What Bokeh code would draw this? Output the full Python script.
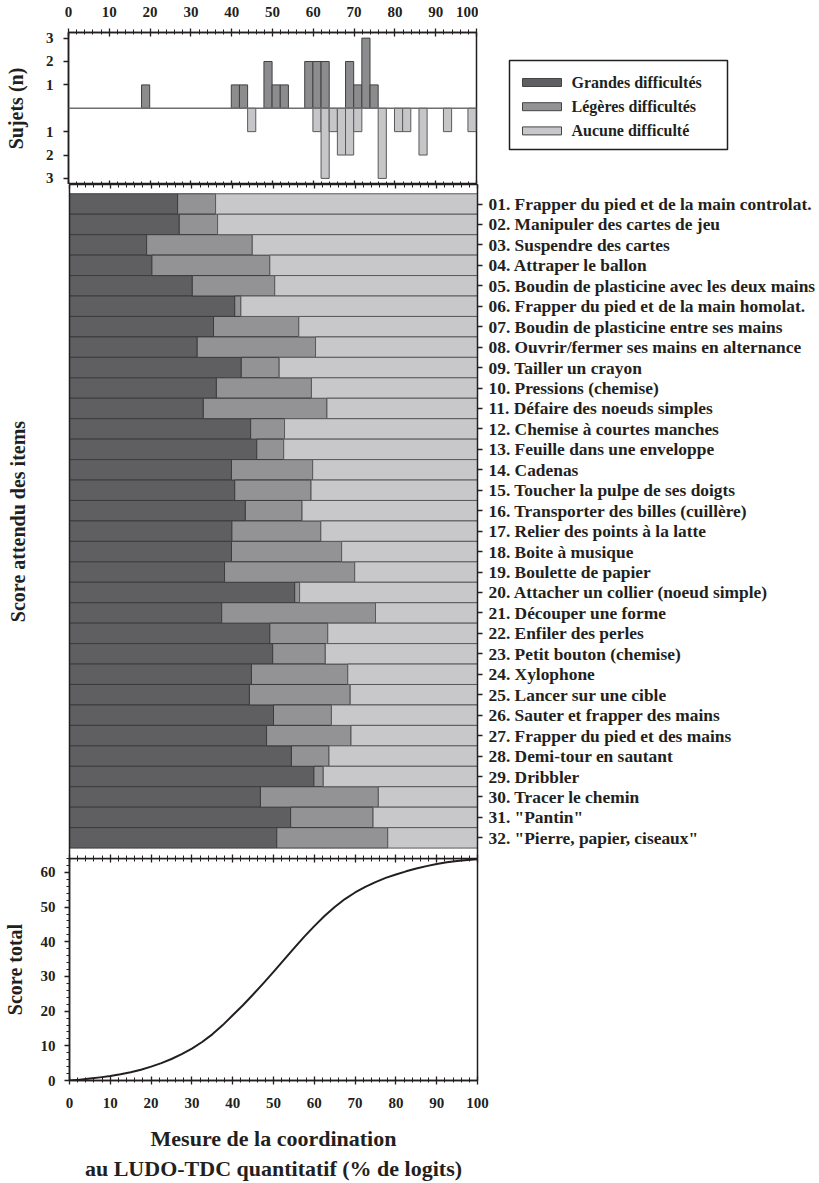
from bokeh.plotting import figure
from bokeh.layouts import column, row
from bokeh.models import (Range1d, LinearAxis, FixedTicker, SingleIntervalTicker, Span,
                          CustomJSTickFormatter, CustomLabelingPolicy)
from bokeh.core.properties import value
from bokeh.embed import file_html
from bokeh.resources import INLINE

FONT = "Liberation Serif"
INK = "#231f20"
C_GRANDES = "#5f5f61"
C_LEGERES = "#939395"
C_AUCUNE = "#c8c8ca"
EDGE = "#3c3c3c"

# ---- distribution of subjects (bins of 2 % logits) ----
hist_up_x = [18.9, 40.9, 42.9, 48.9, 50.9, 52.9, 58.9, 60.9, 62.9, 68.9, 70.9, 72.9, 74.9]
hist_up_n = [1, 1, 1, 2, 1, 1, 2, 2, 2, 2, 1, 3, 1]
hist_dn_x = [44.9, 60.9, 62.9, 64.9, 66.9, 68.9, 70.9, 76.9, 80.9, 82.9, 86.9, 92.9, 98.9]
hist_dn_n = [1, 1, 3, 1, 2, 2, 1, 3, 1, 1, 2, 1, 1]

# ---- legend ----
legend_labels = ["Grandes difficultés", "Légères difficultés", "Aucune difficulté"]
legend_colors = [C_GRANDES, C_LEGERES, C_AUCUNE]

# ---- expected item scores: end of "Grandes" and end of "Legeres" zones ----
item_labels = [
    "01. Frapper du pied et de la main controlat.",
    "02. Manipuler des cartes de jeu",
    "03. Suspendre des cartes",
    "04. Attraper le ballon",
    "05. Boudin de plasticine avec les deux mains",
    "06. Frapper du pied et de la main homolat.",
    "07. Boudin de plasticine entre ses mains",
    "08. Ouvrir/fermer ses mains en alternance",
    "09. Tailler un crayon",
    "10. Pressions (chemise)",
    "11. Défaire des noeuds simples",
    "12. Chemise à courtes manches",
    "13. Feuille dans une enveloppe",
    "14. Cadenas",
    "15. Toucher la pulpe de ses doigts",
    "16. Transporter des billes (cuillère)",
    "17. Relier des points à la latte",
    "18. Boite à musique",
    "19. Boulette de papier",
    "20. Attacher un collier (noeud simple)",
    "21. Découper une forme",
    "22. Enfiler des perles",
    "23. Petit bouton (chemise)",
    "24. Xylophone",
    "25. Lancer sur une cible",
    "26. Sauter et frapper des mains",
    "27. Frapper du pied et des mains",
    "28. Demi-tour en sautant",
    "29. Dribbler",
    "30. Tracer le chemin",
    "31. \"Pantin\"",
    "32. \"Pierre, papier, ciseaux\"",
]
grandes_end = [26.5, 26.9, 18.9, 20.2, 30.1, 40.5, 35.3, 31.3, 42.1, 36.0,
               32.8, 44.4, 45.9, 39.7, 40.5, 43.1, 39.8, 39.7, 38.0, 55.2,
               37.3, 49.1, 49.8, 44.6, 44.1, 50.0, 48.3, 54.4, 59.9, 46.8,
               54.2, 50.8]
legeres_end = [35.8, 36.3, 44.8, 49.1, 50.3, 42.0, 56.2, 60.3, 51.4, 59.3,
               63.1, 52.7, 52.5, 59.6, 59.2, 57.0, 61.6, 66.7, 69.9, 56.4,
               75.0, 63.3, 62.7, 68.2, 68.8, 64.2, 69.0, 63.6, 62.2, 75.7,
               74.4, 78.0]
item_index = list(range(1, len(item_labels) + 1))
scale_max = [100] * len(item_labels)

# ---- total score curve ----
score_x = [0, 2.5, 5, 7.5, 10, 12.5, 15, 17.5, 20, 22.5, 25, 27.5, 30, 32.5, 35, 37.5,
           40, 42.5, 45, 47.5, 50, 52.5, 55, 57.5, 60, 62.5, 65, 67.5, 70, 72.5, 75,
           77.5, 80, 82.5, 85, 87.5, 90, 92.5, 95, 97.5, 100]
score_y = [0, 0.25, 0.55, 0.9, 1.3, 1.8, 2.4, 3.1, 4.0, 5.0, 6.2, 7.6, 9.2, 11.1, 13.3, 15.9,
           18.8, 21.7, 24.8, 28.0, 31.3, 34.7, 38.1, 41.4, 44.5, 47.4, 50.0, 52.3, 54.2,
           55.8, 57.2, 58.4, 59.4, 60.3, 61.1, 61.8, 62.4, 62.9, 63.3, 63.6, 63.8]

x_range = Range1d(0, 100)

NO_LABELS = "for (const i of indices) indices.unset(i); return indices"


def base_fig(frame_h, y_range, right=343, **kw):
    p = figure(frame_width=408, frame_height=frame_h, x_range=x_range, y_range=y_range,
               output_backend="svg", toolbar_location=None,
               x_axis_location=None, y_axis_location=None,
               min_border_left=68, min_border_right=right, **kw)
    p.grid.visible = False
    p.background_fill_color = "white"
    p.border_fill_color = "white"
    return p


def x_ticker():
    return SingleIntervalTicker(interval=10, num_minor_ticks=5)


def style_axis(ax, labels=True, size="15px"):
    ax.axis_line_color = INK
    ax.axis_line_width = 1.5
    ax.major_tick_line_color = INK
    ax.major_tick_line_width = 1.3
    ax.minor_tick_line_color = INK
    ax.minor_tick_line_width = 1
    ax.major_label_text_font = FONT
    ax.major_label_text_font_style = "bold"
    ax.major_label_text_color = INK
    ax.axis_label_text_font = FONT
    ax.axis_label_text_font_style = "bold"
    ax.axis_label_text_color = INK
    ax.axis_label_text_font_size = "20px"
    if labels:
        ax.major_label_text_font_size = size
    else:
        ax.major_label_policy = CustomLabelingPolicy(code=NO_LABELS)
        ax.major_label_text_font_size = "0px"
        ax.major_label_standoff = 0
    return ax


def tick_strip(location, p):
    # axis that only carries the inward tick marks along a panel edge
    ax = style_axis(LinearAxis(ticker=x_ticker(), major_tick_in=4, major_tick_out=0,
                               minor_tick_in=3, minor_tick_out=0), labels=False)
    p.add_layout(ax, location)
    return ax


# ================= histogram of subjects =================
pa = base_fig(152, Range1d(-3.26, 3.24), right=2, min_border_top=32, min_border_bottom=0,
              outline_line_color=INK, outline_line_width=1.5)

top_ax = style_axis(LinearAxis(ticker=x_ticker(), major_tick_in=4, major_tick_out=4,
                               minor_tick_in=2, minor_tick_out=3, major_label_standoff=12))
pa.add_layout(top_ax, "above")
tick_strip("below", pa)
left_a = style_axis(LinearAxis(ticker=FixedTicker(ticks=[-3, -2, -1, 1, 2, 3], minor_ticks=[]),
                               formatter=CustomJSTickFormatter(code="return String(Math.abs(tick))"),
                               major_tick_in=0, major_tick_out=5, major_label_standoff=10,
                               axis_label="Sujets (n)", axis_label_standoff=16))
pa.add_layout(left_a, "left")

pa.add_layout(Span(location=0, dimension="width", line_color="#6e6e6e", line_width=1.5))
pa.vbar(x=hist_up_x, top=hist_up_n, bottom=0, width=2,
        fill_color="#8c8c8e", line_color="#404040", line_width=1)
pa.vbar(x=hist_dn_x, top=[-n for n in hist_dn_n], bottom=0, width=2,
        fill_color="#c6c6c8", line_color="#5a5a5a", line_width=1)

# ================= legend panel (page pixel coordinates, y downwards) =================
pl = figure(frame_width=341, frame_height=152, x_range=Range1d(0, 341),
            y_range=Range1d(184, 32), output_backend="svg", toolbar_location=None,
            x_axis_location=None, y_axis_location=None, min_border_left=0,
            min_border_right=0, min_border_top=32, min_border_bottom=0,
            outline_line_color=None)
pl.grid.visible = False
box_left, box_right, box_top, box_bottom = 31, 249, 60, 149
pl.quad(left=[box_left], right=[box_right], top=[box_top], bottom=[box_bottom],
        fill_color="white", line_color=INK, line_width=1.5)
key_y = [box_top + 22 + 24.2 * i for i in range(len(legend_labels))]
pl.quad(left=[box_left + 13] * 3, right=[box_left + 52] * 3,
        top=[y - 4 for y in key_y], bottom=[y + 4 for y in key_y],
        fill_color=legend_colors, line_color="#444444", line_width=1)
pl.text(x=[box_left + 62] * 3, y=key_y, text=legend_labels, text_font=value(FONT),
        text_font_style=value("bold"), text_font_size=value("16px"), text_color=INK,
        text_baseline="middle", text_align="left")

# ================= expected item scores =================
pb = base_fig(674, Range1d(33.01, 0.046), min_border_top=0, min_border_bottom=0,
              outline_line_color=None)
tick_strip("above", pb)
tick_strip("below", pb)
left_b = style_axis(LinearAxis(ticker=FixedTicker(ticks=[], minor_ticks=[]),
                               major_tick_in=0, major_tick_out=0,
                               axis_label="Score attendu des items", axis_label_standoff=41),
                    labels=False)
pb.add_layout(left_b, "left")
right_b = style_axis(LinearAxis(ticker=FixedTicker(ticks=item_index, minor_ticks=[]),
                                formatter=CustomJSTickFormatter(args=dict(labels=item_labels),
                                                                code="return labels[Math.round(tick) - 1]"),
                                major_tick_in=0, major_tick_out=5, major_label_standoff=6),
                     size="17.4px")
pb.add_layout(right_b, "right")

pb.hbar(y=item_index, left=0, right=grandes_end, height=1,
        fill_color=C_GRANDES, line_color=EDGE, line_width=1)
pb.hbar(y=item_index, left=grandes_end, right=legeres_end, height=1,
        fill_color=C_LEGERES, line_color=EDGE, line_width=1)
pb.hbar(y=item_index, left=legeres_end, right=scale_max, height=1,
        fill_color=C_AUCUNE, line_color="#5a5a5a", line_width=1)

# ================= total score curve =================
pc = base_fig(222, Range1d(0, 64), min_border_top=0, min_border_bottom=103,
              outline_line_color=INK, outline_line_width=1.5)
tick_strip("above", pc)
bottom_c = style_axis(LinearAxis(ticker=x_ticker(), major_tick_in=4, major_tick_out=4,
                                 minor_tick_in=3, minor_tick_out=2, major_label_standoff=13,
                                 axis_label="Mesure de la coordination\nau LUDO-TDC quantitatif (% de logits)",
                                 axis_label_standoff=15))
bottom_c.axis_label_text_font_size = "22px"
pc.add_layout(bottom_c, "below")
left_c = style_axis(LinearAxis(ticker=SingleIntervalTicker(interval=10, num_minor_ticks=5),
                               major_tick_in=0, major_tick_out=5, minor_tick_in=0, minor_tick_out=3,
                               major_label_standoff=9, axis_label="Score total",
                               axis_label_standoff=12))
pc.add_layout(left_c, "left")

pc.line(score_x, score_y, line_color=INK, line_width=2, line_join="round")

layout = column(row(pa, pl, spacing=0), pb, pc, spacing=0)
open("out.html", "w").write(file_html(layout, INLINE))
